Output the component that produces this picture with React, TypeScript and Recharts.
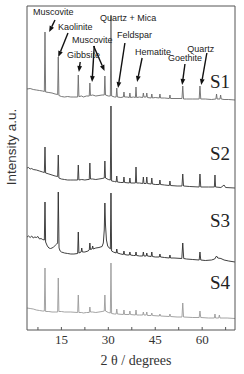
import { LineChart, Line, XAxis, YAxis, ReferenceLine, ReferenceDot } from "recharts";

// 2θ (degrees) and intensity (a.u.), each relative to its own baseline
const s1Points: [number, number][] = [
  [4, 16], [5, 16.5], [6, 15.5], [7, 15], [8, 14.5], [9, 14], [9.55, 13.5], [9.75, 73], [9.95, 13],
  [11, 12.5], [12, 12], [13, 11], [13.8, 10.5], [14.0, 48], [14.2, 9.5], [15, 8.5], [16, 8], [17, 8.5],
  [18, 8], [19, 8], [20.2, 8], [20.4, 30], [20.6, 8.5], [21.5, 9], [22, 8], [23, 9], [23.9, 9],
  [24.1, 22], [24.3, 9.5], [25, 10], [26, 9], [27, 9.5], [28, 10], [28.7, 10], [28.9, 29], [29.1, 10],
  [30, 9], [30.65, 9], [30.85, 90], [31.05, 9], [32, 8], [32.5, 8], [32.7, 17], [32.9, 8], [34, 7.5],
  [34.8, 8], [35, 13], [35.2, 8], [36, 8], [36.7, 7.5], [36.9, 12], [37.1, 7.5], [38, 8], [38.65, 7.5],
  [38.85, 18], [39.05, 7.5], [40, 8], [41, 7.5], [41.2, 12], [41.4, 8], [42.1, 8], [42.3, 12], [42.5, 7.5],
  [43.7, 7], [43.9, 11], [44.1, 7], [45, 7.5], [46.3, 7], [46.5, 11], [46.7, 7], [48, 7], [49.5, 6.5],
  [49.7, 10], [49.9, 6.5], [51, 6.5], [53.55, 6.5], [53.8, 19], [54.05, 6], [55, 6], [57, 6], [59.05, 6],
  [59.3, 19], [59.55, 6], [61, 6], [63, 5.5], [64.4, 6], [64.6, 11], [64.8, 6], [65.7, 6], [65.9, 10],
  [66.1, 6], [67, 5.5], [68.5, 5.5], [70.5, 5],
];

const s2Points: [number, number][] = [
  [4, 22], [4.5, 22.5], [5, 21], [5.5, 21.5], [6, 20.5], [7, 20], [8, 19], [9, 18], [9.55, 17.5],
  [9.75, 43], [9.95, 17], [11, 16], [12, 15], [13, 14], [13.8, 13.5], [14.0, 35], [14.2, 12], [15, 11],
  [16, 10.5], [17, 10], [18, 10], [19, 10], [20.2, 10], [20.4, 25], [20.6, 10], [21.5, 10.5], [22.5, 10],
  [23.5, 10.5], [23.9, 10.5], [24.1, 27], [24.3, 11], [25, 11], [26, 10.5], [27, 11], [28, 11.5],
  [28.7, 12], [28.9, 29], [29.1, 12], [30, 10.5], [30.65, 10], [30.85, 84], [31.05, 9], [32, 8.5],
  [32.5, 8], [32.7, 14], [32.9, 8], [34, 7.5], [34.8, 7.5], [35, 13], [35.2, 7.5], [36.7, 7], [36.9, 12],
  [37.1, 7], [38.65, 7], [38.85, 23], [39.05, 7], [40, 7], [41, 6.5], [41.2, 13], [41.4, 6.5], [42.1, 6.5],
  [42.3, 13], [42.5, 6.5], [43.7, 6], [43.9, 12], [44.1, 6], [45, 5.5], [46.3, 5.5], [46.5, 10],
  [46.7, 5.5], [48, 5], [49.5, 4.5], [49.7, 9], [49.9, 4.5], [52, 4], [53.55, 4], [53.8, 16], [54.05, 4],
  [56, 3.5], [59.05, 3], [59.3, 16], [59.55, 3], [62, 3], [63.9, 3], [64.1, 15], [64.3, 3], [66, 2.5],
  [67, 5], [67.5, 2.5], [70.5, 2],
];

const s3Points: [number, number][] = [
  [4, 28], [4.5, 29], [5, 27.5], [5.5, 29], [6, 27], [6.5, 28], [7, 27.5], [7.5, 28.5], [8, 26],
  [8.5, 26.5], [9, 25.5], [9.55, 25], [9.75, 63], [9.95, 23], [10.5, 19], [11, 17], [11.5, 16.5], [12, 17],
  [12.5, 18], [13, 19.5], [13.5, 21], [13.8, 22], [14.0, 73], [14.25, 17], [14.6, 14], [15, 13], [16, 12],
  [17, 11.5], [18, 11], [19, 11], [20.2, 11.5], [20.4, 33], [20.6, 12], [21.3, 13], [21.5, 17], [21.7, 13],
  [22.5, 13], [23.5, 14], [23.9, 15], [24.1, 22], [24.3, 15.5], [24.8, 16], [25, 19], [25.2, 16], [26, 17],
  [27, 17.5], [28, 18.5], [28.4, 22], [28.7, 35], [28.9, 62], [29.1, 40], [29.4, 25], [29.8, 19],
  [30.3, 17], [30.65, 16], [30.85, 72], [31.05, 14], [31.6, 13], [32.5, 12], [32.7, 16], [32.9, 12],
  [34, 11], [34.8, 10.5], [35, 14], [35.2, 10.5], [36, 10], [36.7, 10], [36.9, 13], [37.1, 10], [38, 9.5],
  [38.65, 9.5], [38.85, 13], [39.05, 9.5], [40, 9], [41, 9], [41.2, 13], [41.4, 9], [42.1, 9], [42.3, 12],
  [42.5, 9], [43.7, 8.5], [43.9, 13], [44.1, 8.5], [45, 8], [46.3, 8], [46.5, 11], [46.7, 8], [48, 7.5],
  [49.5, 7], [49.7, 10], [49.9, 7], [51, 7], [53.5, 6.5], [53.8, 22], [54.1, 6.5], [55, 6], [57, 5.5],
  [59.05, 5], [59.3, 13], [59.55, 5], [61, 4.5], [63, 5], [64, 6], [64.6, 9], [65, 7], [66, 6.5], [67, 5],
  [68.5, 4], [70.5, 3],
];

const s4Points: [number, number][] = [
  [4, 22], [5, 21.5], [6, 21], [7, 20], [8, 19.5], [9, 19], [9.55, 19], [9.75, 62], [9.95, 18.5],
  [11, 18.5], [12, 18], [13, 18], [13.8, 18], [14.0, 52], [14.2, 18.5], [15, 18.5], [16, 18], [18, 18],
  [20.2, 17.5], [20.4, 35], [20.6, 17.5], [21.5, 17.5], [22, 17], [23, 17.5], [23.9, 17.5], [24.1, 23],
  [24.3, 18], [25, 18], [26, 17.5], [27, 18], [28, 18.5], [28.7, 19], [28.9, 35], [29.1, 19], [30, 17.5],
  [30.65, 17], [30.85, 67], [31.05, 16.5], [32, 16], [32.5, 16], [32.7, 21], [32.9, 16], [34.8, 15.5],
  [35, 20], [35.2, 15.5], [36.7, 15.5], [36.9, 19], [37.1, 15.5], [38.65, 15], [38.85, 20], [39.05, 15],
  [40, 15], [41, 15], [41.2, 18], [41.4, 15], [42.1, 15], [42.3, 18], [42.5, 14.5], [43.7, 14.5],
  [43.9, 17], [44.1, 14.5], [46.3, 14], [46.5, 16], [46.7, 14], [49.5, 13.5], [49.7, 16], [49.9, 13.5],
  [52, 13], [53.55, 13], [53.8, 27], [54.05, 13], [57, 12.5], [59.05, 12.5], [59.3, 19], [59.55, 12.5],
  [62, 12], [63.9, 12], [64.1, 16], [64.3, 12], [65.3, 12], [65.5, 15], [65.7, 12], [68, 12], [70.5, 11.5],
];

const sampleNames = ["S1", "S2", "S3", "S4"];
const sampleColors = ["#6a6a6a", "#333333", "#2a2a2a", "#9a9a9a"];
// vertical shift of each pattern in the stack
const offsets = [225, 140, 65, 0];

const xTicks = [7.5, 15, 22.5, 30, 37.5, 45, 52.5, 60, 67.5];
const yTicks = [6, 20.6, 35.2, 49.8, 64.4, 79, 93.6, 108.2, 122.8, 137.4, 152, 166.6, 181.2, 195.8, 210.4, 225, 239.6, 254.2, 268.8, 283.4, 298, 312.6];

// phase labels: text anchor (2θ, intensity)
const phaseLabels: { text: string; x: number; y: number }[] = [
  { text: "Muscovite", x: 5.9, y: 315 },
  { text: "Kaolinite", x: 13.9, y: 300 },
  { text: "Muscovite", x: 18.4, y: 287 },
  { text: "Gibbsite", x: 16.8, y: 272 },
  { text: "Quartz + Mica", x: 27.3, y: 309 },
  { text: "Feldspar", x: 32.8, y: 292 },
  { text: "Hematite", x: 38.5, y: 275 },
  { text: "Goethite", x: 49.1, y: 269 },
  { text: "Quartz", x: 55.2, y: 278 },
];

// arrows from label to peak: [x1, y1, x2, y2]
const phaseArrows: [number, number, number, number][] = [
  [12.95, 310, 11.1, 298],
  [17.1, 297, 14.0, 273],
  [25.5, 284, 24.8, 248],
  [25.3, 284, 28.8, 259],
  [21.0, 268, 20.6, 258],
  [35.3, 287, 33.1, 242],
  [40.8, 272, 39.2, 248],
  [54.5, 266, 53.6, 245],
  [61.5, 277, 59.7, 245],
];

const sampleLabelPos: [number, number][] = [
  [62.5, 242],
  [62.5, 170],
  [62.5, 103],
  [62.5, 41],
];

const seriesData = [s1Points, s2Points, s3Points, s4Points].map((pts, i) =>
  pts.map(([x, y]) => ({ x, y: y + offsets[i] }))
);

const Arrow = (p: any) => {
  const { x1, y1, x2, y2 } = p;
  const dx = x2 - x1;
  const dy = y2 - y1;
  const len = Math.hypot(dx, dy) || 1;
  const ux = dx / len;
  const uy = dy / len;
  const bx = x2 - ux * 6;
  const by = y2 - uy * 6;
  return (
    <g>
      <line x1={x1} y1={y1} x2={bx} y2={by} stroke="#111" strokeWidth={1.4} />
      <polygon
        points={`${x2},${y2} ${bx - uy * 2.4},${by + ux * 2.4} ${bx + uy * 2.4},${by - ux * 2.4}`}
        fill="#111"
      />
    </g>
  );
};

const BottomTick = ({ x, y, payload }: any) => (
  <g>
    <line x1={x} y1={y} x2={x} y2={y - 3} stroke="#555" />
    {payload.value % 15 === 0 && (
      <text x={x} y={y + 14} textAnchor="middle" fontFamily="Liberation Serif" fontSize={13} fill="#333">
        {payload.value}
      </text>
    )}
  </g>
);

export default function App() {
  return (
    <div style={{ position: "relative", width: 244, height: 374, background: "#fff" }}>
      <style>{`body{margin:0}`}</style>
      <LineChart width={244} height={374} margin={{ top: 6, right: 9, bottom: 0, left: 27 }}>
        <XAxis
          xAxisId="b"
          type="number"
          dataKey="x"
          domain={[4, 70.5]}
          ticks={xTicks}
          interval={0}
          allowDataOverflow
          height={44}
          tickSize={0}
          tickMargin={0}
          tickLine={false}
          tick={<BottomTick />}
          axisLine={{ stroke: "#555" }}
        />
        <XAxis
          xAxisId="t"
          orientation="top"
          type="number"
          domain={[4, 70.5]}
          ticks={xTicks}
          interval={0}
          mirror
          tick={false}
          tickSize={3}
          tickLine={{ stroke: "#555" }}
          axisLine={{ stroke: "#555" }}
        />
        <YAxis
          yAxisId="l"
          type="number"
          domain={[0, 324]}
          ticks={yTicks}
          interval={0}
          allowDataOverflow
          mirror
          tick={false}
          tickSize={3}
          tickLine={{ stroke: "#555" }}
          axisLine={{ stroke: "#555" }}
        />
        <YAxis
          yAxisId="r"
          orientation="right"
          type="number"
          domain={[0, 324]}
          ticks={yTicks}
          interval={0}
          mirror
          tick={false}
          tickSize={3}
          tickLine={{ stroke: "#555" }}
          axisLine={{ stroke: "#555" }}
        />
        {seriesData.map((d, i) => (
          <Line
            key={sampleNames[i]}
            xAxisId="b"
            yAxisId="l"
            data={d}
            dataKey="y"
            type="linear"
            stroke={sampleColors[i]}
            strokeWidth={0.9}
            dot={false}
            activeDot={false}
            isAnimationActive={false}
          />
        ))}
        {phaseArrows.map(([x1, y1, x2, y2], i) => (
          <ReferenceLine
            key={"a" + i}
            xAxisId="b"
            yAxisId="l"
            segment={[{ x: x1, y: y1 }, { x: x2, y: y2 }]}
            shape={Arrow}
          />
        ))}
        {phaseLabels.map((l, i) => (
          <ReferenceDot
            key={"l" + i}
            xAxisId="b"
            yAxisId="l"
            x={l.x}
            y={l.y}
            r={0}
            shape={(p: any) => (
              <text x={p.cx} y={p.cy} fontFamily="Liberation Sans" fontSize={9} fill="#222">
                {l.text}
              </text>
            )}
          />
        ))}
        {sampleNames.map((n, i) => (
          <ReferenceDot
            key={n}
            xAxisId="b"
            yAxisId="l"
            x={sampleLabelPos[i][0]}
            y={sampleLabelPos[i][1]}
            r={0}
            shape={(p: any) => (
              <text x={p.cx} y={p.cy} fontFamily="Liberation Serif" fontSize={19} fill="#222">
                {n}
              </text>
            )}
          />
        ))}
      </LineChart>
      <div
        style={{
          position: "absolute",
          left: 11,
          top: 147,
          transform: "translate(-50%, -50%) rotate(-90deg)",
          whiteSpace: "nowrap",
          fontFamily: "Liberation Sans",
          fontSize: 13.5,
          color: "#333",
        }}
      >
        Intensity a.u.
      </div>
      <div
        style={{
          position: "absolute",
          left: 136,
          top: 353,
          transform: "translateX(-50%)",
          whiteSpace: "nowrap",
          fontFamily: "Liberation Serif",
          fontSize: 14,
          color: "#333",
          lineHeight: "16px",
        }}
      >
        2 θ / degrees
      </div>
    </div>
  );
}
